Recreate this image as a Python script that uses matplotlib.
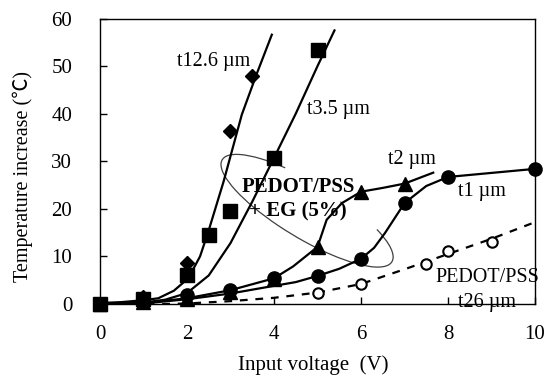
import numpy as np
import matplotlib
matplotlib.use("Agg")
import matplotlib.pyplot as plt
from matplotlib.patches import Arc
from matplotlib.transforms import ScaledTranslation

# ---- data ----
# PEDOT/PSS + EG(5%), t12.6 um (diamonds)
d126_x = [0, 1, 2, 3, 3.5]
d126_y = [0, 1.5, 8.6, 36.3, 48.0]
# t3.5 um (squares)
d35_x = [0, 1, 2, 2.5, 3, 4, 5]
d35_y = [0, 1.0, 6.0, 14.6, 19.5, 30.7, 53.3]
# t2 um (triangles)
d2_x = [0, 1, 2, 3, 4, 5, 6, 7]
d2_y = [0, 0.5, 1.0, 2.5, 5.2, 12.0, 23.6, 25.3]
# t1 um (circles)
d1_x = [0, 1, 2, 3, 4, 5, 6, 7, 8, 10]
d1_y = [0, 0.5, 1.9, 2.9, 5.4, 5.9, 9.5, 21.2, 26.7, 28.4]
# PEDOT/PSS t26 um (open circles)
d26_x = [5, 6, 7.5, 8, 9]
d26_y = [2.4, 4.3, 8.4, 11.1, 13.0]

# curves
c126_x = [0, 0.5, 1.0, 1.34, 1.7, 2.03, 2.3, 2.49, 2.84, 3.26, 3.6, 3.95]
c126_y = [0.2, 0.4, 0.8, 1.2, 2.8, 5.4, 10.0, 15.2, 25.7, 39.8, 48.3, 56.6]
c35_x = [0, 1, 1.5, 2.0, 2.5, 3.0, 3.5, 4.0, 4.5, 5.0, 5.39]
c35_y = [0, 0.3, 0.9, 2.3, 6.0, 12.8, 21.5, 30.7, 40.0, 50.0, 57.5]
c2_x = [0, 1, 2, 3, 4, 4.44, 5, 5.21, 5.56, 6, 6.5, 7, 7.66]
c2_y = [-0.3, 0.2, 1.2, 2.9, 5.4, 7.9, 12.0, 17.7, 21.2, 23.6, 24.4, 25.3, 27.6]
c1_x = [0, 1, 2, 3, 3.68, 4.5, 5, 5.5, 6, 6.3, 6.55, 7, 7.5, 8, 10]
c1_y = [-0.3, 0.1, 1.0, 2.2, 3.3, 4.6, 5.9, 7.4, 9.5, 11.8, 14.9, 21.2, 24.8, 26.7, 28.4]
c26_x = [0, 1, 2, 3, 4, 5, 6, 7, 8, 9, 10]
c26_y = [-0.3, -0.1, 0.1, 0.6, 1.3, 2.4, 4.2, 7.3, 10.5, 13.7, 17.2]

plt.rcParams['font.family'] = ['Liberation Serif', 'Noto Sans CJK JP']

fig = plt.figure(figsize=(5.44, 3.78), dpi=100)
ax = fig.add_axes([0.1838, 0.1958, 0.7997, 0.7552])

lw = 1.6
# lines
ax.plot(c126_x, c126_y, color='black', lw=lw, clip_on=False)
ax.plot(c35_x, c35_y, color='black', lw=lw, clip_on=False)
ax.plot(c2_x, c2_y, color='black', lw=lw)
ax.plot(c1_x, c1_y, color='black', lw=lw)
ax.plot(c26_x, c26_y, color='black', lw=lw, linestyle=(0, (3.5, 3.5)))

# markers
ax.plot(d26_x, d26_y, 'o', ms=7.5, mfc='white', mec='black', mew=1.5, clip_on=False)
ax.plot(d126_x, d126_y, 'D', ms=7, color='black', clip_on=False)
ax.plot(d35_x, d35_y, 's', ms=10.5, color='black', clip_on=False)
ax.plot(d2_x, d2_y, '^', ms=9.5, color='black', clip_on=False)
ax.plot(d1_x, d1_y, 'o', ms=9.5, color='black', clip_on=False)

# ellipse around the label (open at the upper side)
ell = Arc((0, 0), width=1.98, height=0.56, angle=-31, theta1=148, theta2=16,
          color='#404040', lw=0.9,
          transform=fig.dpi_scale_trans + ScaledTranslation(4.76, 19.6, ax.transData))
ax.add_patch(ell)

# labels
fs = 14.5
ax.text(1.77, 51, 't12.6 µm', fontsize=fs, ha='left', va='center')
ax.text(4.76, 40.8, 't3.5 µm', fontsize=fs, ha='left', va='center')
ax.text(6.62, 30.3, 't2 µm', fontsize=fs, ha='left', va='center')
ax.text(8.23, 23.6, 't1 µm', fontsize=fs, ha='left', va='center')
ax.text(7.70, 5.5, 'PEDOT/PSS', fontsize=fs, ha='left', va='center', clip_on=False)
ax.text(8.23, 0.4, 't26 µm', fontsize=fs, ha='left', va='center')
ax.text(4.55, 22.0, 'PEDOT/PSS\n+ EG (5%)', fontsize=15, fontweight='bold',
        ha='center', va='center', linespacing=1.35)

ax.set_xlim(0, 10)
ax.set_ylim(0, 60)
ax.set_xticks([0, 2, 4, 6, 8, 10])
ax.set_yticks([0, 10, 20, 30, 40, 50, 60])
ax.tick_params(direction='in', length=5, width=1, labelsize=15)
ax.tick_params(axis='y', pad=20)
ax.tick_params(axis='x', pad=15)
for s in ax.spines.values():
    s.set_linewidth(1.0)

ax.set_xlabel('Input voltage  (V)', fontsize=15)
ax.set_ylabel('Temperature increase (℃)', fontsize=14.5)
ax.xaxis.set_label_coords(0.49, -0.18)
ax.yaxis.set_label_coords(-0.154, 0.445)

fig.savefig('out.png', dpi=100)
